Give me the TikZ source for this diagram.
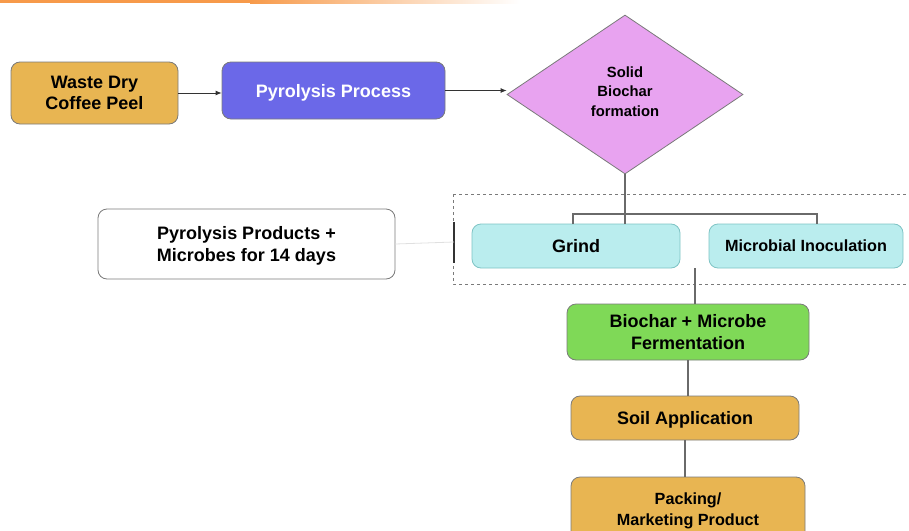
\documentclass[tikz,border=0pt]{standalone}
\usepackage{fontspec}
\setmainfont{Liberation Sans}
\usetikzlibrary{shapes.geometric,arrows.meta}
\definecolor{gold}{HTML}{E8B552}
\definecolor{violetbox}{HTML}{6B68E8}
\definecolor{lilac}{HTML}{E8A3F0}
\definecolor{cyanbox}{HTML}{BAEDEE}
\definecolor{cyanedge}{HTML}{7EC3C4}
\definecolor{greenbox}{HTML}{7FD957}
\definecolor{edgegray}{HTML}{7A7A7A}
\definecolor{linkgray}{HTML}{6A6A6A}
\definecolor{topline}{HTML}{F79A4A}
\begin{document}
\begin{tikzpicture}[x=1pt,y=-1pt,
  box/.style={draw=edgegray, line width=0.8pt, rounded corners=9pt, align=center,
    font=\bfseries\fontsize{18}{21.5}\selectfont, inner sep=2pt},
  goldbox/.style={box, fill=gold},
  cyan/.style={box, fill=cyanbox, draw=cyanedge},
  link/.style={draw=linkgray, line width=1.2pt},
  flow/.style={draw=black!80, line width=0.8pt, -{Latex[length=6pt,width=5pt]}}
]
\useasboundingbox (0,0) rectangle (909,530);

% accent stripe along the top edge
\fill[topline] (0,0) rectangle (250,3);
\shade[left color=topline, right color=white] (250,0) rectangle (520,3);

% nodes
\node[goldbox, minimum width=167pt, minimum height=62pt, text depth=-2pt] (peel) at (94.5,93)
  {Waste Dry\\Coffee Peel};
\node[box, fill=violetbox, text=white, minimum width=223pt, minimum height=57pt, text depth=-2pt]
  (pyro) at (333.5,90.5) {Pyrolysis Process};
\node[diamond, draw=edgegray, line width=0.8pt, fill=lilac, minimum width=236pt, minimum height=159pt,
  inner sep=0pt] (solid) at (625,94.5) {};
\node[align=center, font=\bfseries\fontsize{14.8}{19.5}\selectfont] (solidtext) at (625,91.5)
  {Solid\\Biochar\\formation};
\node[box, fill=white, minimum width=297pt, minimum height=70pt, font=\bfseries\fontsize{18}{22}\selectfont,
  text depth=-1.5pt] (prod) at (246.5,244) {Pyrolysis Products +\\Microbes for 14 days};
\node[cyan, minimum width=208pt, minimum height=44pt, text depth=-1pt] (grind) at (576,246) {Grind};
\node[cyan, minimum width=194pt, minimum height=44pt, font=\bfseries\fontsize{16.2}{18}\selectfont,
  text depth=-1pt] (inoc) at (806,246) {Microbial Inoculation};
\node[box, fill=greenbox, minimum width=242pt, minimum height=56pt, text depth=-2pt] (ferm) at (688,332)
  {Biochar + Microbe\\Fermentation};
\node[goldbox, minimum width=228pt, minimum height=44pt, text depth=-3pt] (soil) at (685,418)
  {Soil Application};
\node[goldbox, minimum width=234pt, minimum height=66pt, font=\bfseries\fontsize{16.2}{21}\selectfont,
  text depth=2pt] (pack) at (688,510) {Packing/\\Marketing Product};

% dashed group round the two treatment steps
\draw[edgegray, dashed, line width=0.6pt] (453,194) -- (915,194);
\draw[edgegray, dashed, line width=0.6pt] (453,194) -- (453,284) -- (915,284);
\coordinate (bar) at (454,242);
\draw[black!80, line width=1.6pt] (454,222) -- (454,263);
\draw[black!12, line width=0.8pt] (prod.east) -- (bar);

% arrows along the top row
\draw[flow] (peel.east) -- (peel.east -| pyro.west);
\draw[flow] (pyro.east) -- (pyro.east -| solid.west);

% bracket from the diamond to both treatment boxes
\coordinate (split) at (625,214);
\draw[link] (solid.south) -- (split) -- (625,224);
\draw[link] (573,224) -- (573,214) -- (817,214) -- (817,224);

% vertical links down the chain
\coordinate (inocfoot) at (695,268);
\draw[link] (inocfoot) -- (inocfoot |- ferm.north);
\draw[link] (ferm.south -| 688,0) -- (soil.north -| 688,0);
\draw[link] (soil.south) -- (soil.south |- pack.north);
\end{tikzpicture}
\end{document}
